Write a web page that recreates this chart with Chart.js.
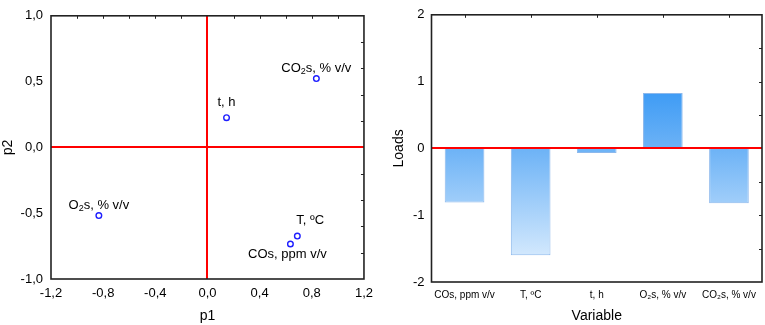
<!DOCTYPE html>
<html>
<head>
<meta charset="utf-8">
<script src="https://cdn.jsdelivr.net/npm/chart.js@4.4.1/dist/chart.umd.min.js"></script>
<style>
    body { margin: 0; background: #fff; }
    #wrap { position: relative; width: 765px; height: 325px; }
    #scoreChart { position: absolute; left: 0; top: 0; }
    #loadChart { position: absolute; left: 385px; top: 0; }
</style>
</head>
<body>
<div id="wrap">
    <canvas id="scoreChart" width="380" height="325"></canvas>
    <canvas id="loadChart" width="380" height="325"></canvas>
</div>
<script>
// left panel: variables on p1 / p2
const varNames = ['CO_2s, % v/v', 't, h', 'O_2s, % v/v', 'T, ºC', 'COs, ppm v/v'];
const p1 = [0.835, 0.146, -0.833, 0.689, 0.636];
const p2 = [0.523, 0.226, -0.518, -0.674, -0.734];
const p1Ticks = [-1.2, -0.8, -0.4, 0, 0.4, 0.8, 1.2];
const p2Ticks = [-1, -0.5, 0, 0.5, 1];

// right panel: loads per variable
const barCategories = ['COs, ppm v/v', 'T, ºC', 't, h', 'O₂s, % v/v', 'CO₂s, % v/v'];
const loads = [-0.81, -1.60, -0.07, 0.83, -0.82];
const loadTicks = [-2, -1, 0, 1, 2];

// where each point label sits relative to its marker
const labelPlace = [
    { dx: 0, dy: -10, align: 'center' },
    { dx: 0, dy: -15, align: 'center' },
    { dx: 0, dy: -10, align: 'center' },
    { dx: -1, dy: -16, align: 'left' },
    { dx: -3, dy: 10, align: 'center' }
];

Chart.defaults.font.family = '"Liberation Sans", Arial, sans-serif';
Chart.defaults.color = '#000';

const comma = v => Number(v).toFixed(1).replace('.', ',');

function drawRich(ctx, text, x, y, align) {
    const parts = text.split(/(_\d)/).filter(s => s);
    const big = '13px "Liberation Sans", Arial, sans-serif';
    const small = '9px "Liberation Sans", Arial, sans-serif';
    let total = 0;
    const widths = parts.map(p => {
        ctx.font = p[0] === '_' ? small : big;
        const w = ctx.measureText(p[0] === '_' ? p.slice(1) : p).width;
        total += w;
        return w;
    });
    let cx = align === 'left' ? x : x - total / 2;
    ctx.textBaseline = 'middle';
    ctx.textAlign = 'left';
    ctx.fillStyle = '#000';
    parts.forEach((p, i) => {
        if (p[0] === '_') {
            ctx.font = small;
            ctx.fillText(p.slice(1), cx, y + 3);
        } else {
            ctx.font = big;
            ctx.fillText(p, cx, y);
        }
        cx += widths[i];
    });
}

// frame, inward tick marks and red zero lines
function framePlugin(opts) {
    return {
        id: 'frame',
        afterDatasetsDraw(chart) {
            const { ctx, chartArea: a, scales } = chart;
            ctx.save();
            ctx.strokeStyle = '#f00';
            ctx.lineWidth = 2;
            if (opts.zeroX) {
                const x0 = Math.round(scales.x.getPixelForValue(0));
                ctx.beginPath();
                ctx.moveTo(x0, a.top);
                ctx.lineTo(x0, a.bottom);
                ctx.stroke();
            }
            const y0 = Math.round(scales.y.getPixelForValue(0));
            ctx.beginPath();
            ctx.moveTo(a.left, y0);
            ctx.lineTo(a.right, y0);
            ctx.stroke();

            ctx.strokeStyle = '#222';
            ctx.lineWidth = 1;
            opts.topMarks.forEach(v => {
                const x = Math.round(scales.x.getPixelForValue(v)) + 0.5;
                ctx.beginPath();
                ctx.moveTo(x, a.top);
                ctx.lineTo(x, a.top + 3);
                ctx.stroke();
            });
            opts.rightMarks.forEach(v => {
                const y = Math.round(scales.y.getPixelForValue(v)) + 0.5;
                ctx.beginPath();
                ctx.moveTo(a.right, y);
                ctx.lineTo(a.right - 3, y);
                ctx.stroke();
            });
            ctx.lineWidth = 1.6;
            ctx.strokeRect(a.left, a.top, a.right - a.left, a.bottom - a.top);
            ctx.restore();
        }
    };
}

const pointLabels = {
    id: 'pointLabels',
    afterDatasetsDraw(chart) {
        const { ctx } = chart;
        const meta = chart.getDatasetMeta(0);
        ctx.save();
        meta.data.forEach((pt, i) => {
            const pl = labelPlace[i];
            drawRich(ctx, varNames[i], pt.x + pl.dx, pt.y + pl.dy, pl.align);
        });
        ctx.restore();
    }
};

new Chart(document.getElementById('scoreChart'), {
    type: 'scatter',
    data: {
        datasets: [{
            data: p1.map((v, i) => ({ x: v, y: p2[i] })),
            pointStyle: 'circle',
            pointRadius: 2.8,
            borderColor: '#1f1fff',
            backgroundColor: '#fff',
            borderWidth: 1.4
        }]
    },
    options: {
        responsive: false,
        animation: false,
        layout: { padding: { top: 13, right: 12, left: 0, bottom: 0 } },
        plugins: { legend: { display: false }, tooltip: { enabled: false } },
        scales: {
            x: {
                type: 'linear', min: -1.2, max: 1.2,
                afterBuildTicks: s => { s.ticks = p1Ticks.map(v => ({ value: v })); },
                afterFit: s => { s.height = 46; },
                grid: { display: false, drawTicks: false },
                border: { display: false },
                ticks: { font: { size: 13 }, padding: 7, callback: v => comma(v) },
                title: { display: true, text: 'p1', font: { size: 14 }, padding: 0 }
            },
            y: {
                type: 'linear', min: -1, max: 1,
                afterBuildTicks: s => { s.ticks = p2Ticks.map(v => ({ value: v })); },
                afterFit: s => { s.width = 51; },
                grid: { display: false, drawTicks: false },
                border: { display: false },
                ticks: { font: { size: 13 }, padding: 8, callback: v => comma(v) },
                title: { display: true, text: 'p2', font: { size: 14 }, padding: 0 }
            }
        }
    },
    plugins: [pointLabels, framePlugin({
        zeroX: true,
        topMarks: [-1, -0.8, -0.6, -0.4, -0.2, 0.2, 0.4, 0.6, 0.8, 1],
        rightMarks: [-0.8, -0.6, -0.4, -0.2, 0.2, 0.4, 0.6, 0.8]
    })]
});

function barFill(context) {
    const { chart } = context;
    const { ctx, chartArea, scales } = chart;
    if (!chartArea) return '#6cb2f6';
    const y = scales.y;
    const g = ctx.createLinearGradient(0, y.getPixelForValue(0.83), 0, y.getPixelForValue(-1.6));
    g.addColorStop(0, '#3f9cf5');
    g.addColorStop(0.34, '#6cb2f6');
    g.addColorStop(1, '#d2e8fd');
    return g;
}

new Chart(document.getElementById('loadChart'), {
    type: 'bar',
    data: {
        labels: barCategories,
        datasets: [{
            data: loads,
            backgroundColor: barFill,
            borderColor: 'rgba(45,125,220,0.55)',
            borderWidth: 1,
            barPercentage: 0.6,
            categoryPercentage: 1
        }]
    },
    options: {
        responsive: false,
        animation: false,
        layout: { padding: { top: 14, right: 3, left: 0, bottom: 0 } },
        plugins: { legend: { display: false }, tooltip: { enabled: false } },
        scales: {
            x: {
                afterFit: s => { s.height = 43; },
                grid: { display: false, drawTicks: false },
                border: { display: false },
                ticks: { font: { size: 10 }, padding: 7, maxRotation: 0, autoSkip: false },
                title: { display: true, text: 'Variable', font: { size: 14 }, padding: 0 }
            },
            y: {
                min: -2, max: 2,
                afterBuildTicks: s => { s.ticks = loadTicks.map(v => ({ value: v })); },
                afterFit: s => { s.width = 46.5; },
                grid: { display: false, drawTicks: false },
                border: { display: false },
                ticks: { font: { size: 13 }, padding: 7 },
                title: { display: true, text: 'Loads', font: { size: 14 }, padding: { top: 6, bottom: 0 } }
            }
        }
    },
    plugins: [framePlugin({
        zeroX: false,
        topMarks: [0, 1, 2, 3, 4],
        rightMarks: [-1.5, -1, -0.5, 0.5, 1, 1.5]
    })]
});
</script>
</body>
</html>
